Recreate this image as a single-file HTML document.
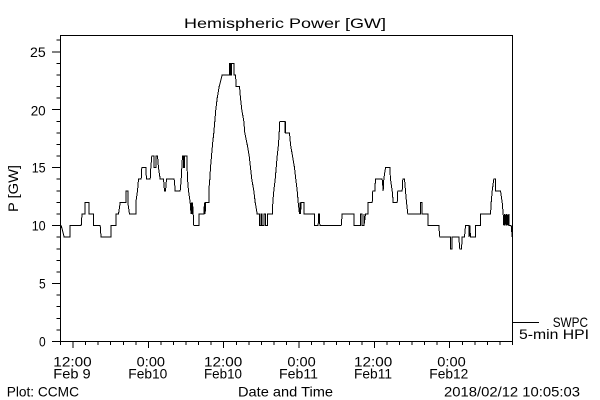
<!DOCTYPE html>
<html>
<head>
<meta charset="utf-8">
<style>
html,body{margin:0;padding:0;background:#fff;}
svg{display:block;}
text{font-family:"Liberation Sans",sans-serif;font-size:14px;fill:#000;}
</style>
</head>
<body>
<svg width="600" height="400" viewBox="0 0 600 400" xmlns="http://www.w3.org/2000/svg">
<rect x="0" y="0" width="600" height="400" fill="#fff"/>

<!-- Title -->
<text x="184" y="28" textLength="202" lengthAdjust="spacingAndGlyphs">Hemispheric Power [GW]</text>

<!-- Plot box -->
<g stroke="#000" stroke-width="1" fill="none" shape-rendering="crispEdges">
<path d="M60.5 35.5 H512.5 V341.5 H60.5 Z"/>
<!-- Y ticks major -->
<path d="M52 341.5H60.5 M52 283.55H60.5 M52 225.6H60.5 M52 167.65H60.5 M52 109.7H60.5 M52 51.75H60.5"/>
<!-- Y ticks minor -->
<path d="M56.5 329.91H60.5 M56.5 318.32H60.5 M56.5 306.73H60.5 M56.5 295.14H60.5 M56.5 271.96H60.5 M56.5 260.37H60.5 M56.5 248.78H60.5 M56.5 237.19H60.5 M56.5 214.01H60.5 M56.5 202.42H60.5 M56.5 190.83H60.5 M56.5 179.24H60.5 M56.5 156.06H60.5 M56.5 144.47H60.5 M56.5 132.88H60.5 M56.5 121.29H60.5 M56.5 98.11H60.5 M56.5 86.52H60.5 M56.5 74.93H60.5 M56.5 63.34H60.5 M56.5 40.16H60.5"/>
<!-- X ticks major -->
<path d="M73.06 341.5V348 M148.39 341.5V348 M223.72 341.5V348 M299.06 341.5V348 M374.39 341.5V348 M449.72 341.5V348"/>
<!-- X ticks minor -->
<path d="M60.5 341.5V345 M85.61 341.5V345 M98.17 341.5V345 M110.72 341.5V345 M123.28 341.5V345 M135.83 341.5V345 M160.94 341.5V345 M173.5 341.5V345 M186.06 341.5V345 M198.61 341.5V345 M211.17 341.5V345 M236.28 341.5V345 M248.83 341.5V345 M261.39 341.5V345 M273.94 341.5V345 M286.5 341.5V345 M311.61 341.5V345 M324.17 341.5V345 M336.72 341.5V345 M349.28 341.5V345 M361.83 341.5V345 M386.94 341.5V345 M399.5 341.5V345 M412.06 341.5V345 M424.61 341.5V345 M437.17 341.5V345 M462.28 341.5V345 M474.83 341.5V345 M487.39 341.5V345 M499.94 341.5V345 M512.5 341.5V345"/>
<!-- Legend line -->
<path d="M512.5 322.5H539"/>
</g>

<!-- Data -->
<polyline fill="none" stroke="#000" stroke-width="1" vector-effect="non-scaling-stroke" shape-rendering="crispEdges"
transform="matrix(1 0 0 -11.59 0.5 341.5)"
points="60.7,10 63.7,9 69.7,9 69.7,10 80.7,10 81.5,11 84.7,11 84.7,12 88.7,12 88.7,11 93,11 93,10 99.7,10 100.5,9 110.7,9 110.7,10 115.3,10 115.3,11 118,11 119.7,12 125.7,12 125.7,13 127.3,13 127.3,12 129,11 135.3,11 135.3,12 137,13 138,14 140.7,14 141.3,15 145.3,15 146,14 149.7,14 150.3,15 151.3,16 153.7,16 153.7,15 155.3,15 155.3,16 157,16 158,15 159.7,14 163,14 164,13 165,13 166,14 173.7,14 174.7,13 179.7,13 180.7,14 181.3,15 182,16 183,16 183,15 184,15 184,16 186.3,16 187,14 188,13 189.7,12 190.5,11 191,12 191.5,11 192,12 192.7,11 193.3,10 198.3,10 198.3,11 203.3,11 204,12 204.7,11 205,12 208.3,12 208.3,13 209.3,14 210,15 211,16 212,17 213.3,18 214.3,19 215.3,20 216.7,21 218.7,22 221.7,23 229,23 229,24 230,24 230,23 231,23 231,24 233.3,24 233.3,23 235,23 235.7,22 239,22 240,21 241.3,20 243.3,19 244.3,18 246.7,17 248.7,16 250,15 251.3,14 253.3,13 254.7,12 256.7,11 259,11 259,10 260.7,10 260.7,11 261.7,11 261.7,10 263.3,10 263.3,11 265,11 265,10 267,10 267,11 272,11 272.3,12 273.3,13 274.7,14 275.7,15 276.7,16 278,17 278.7,18 279.3,19 284.3,19 284.3,18 285,19 285,18 289,18 290,17 292,16 294,15 295.3,14 296.7,13 297.7,12 299,11 299.5,12 300,11 300.7,12 303.3,12 303.3,11 314,11 314,10 317.7,10 318,11 319,11 319.3,10 340.7,10 341.7,11 353.3,11 353.3,10 360,10 360,11 361.7,11 361.7,10 363.3,10 363.3,11 363.5,10 365,11 367.7,11 367.7,12 371.7,12 372.3,13 374.3,13 375,14 381.7,14 382.7,13 383.3,14 385,15 389.3,15 390,14 391.7,13 392.7,12 396.7,12 397.3,13 401.7,13 402.3,14 404,14 405,13 406,12 407.3,11 420,11 420,12 421.7,12 421.7,11 427.3,11 427.3,10 438.3,10 439.3,9 450,9 450,8 451.7,8 451.7,9 458.3,9 459.3,8 461,8 461.7,9 464,9 465,10 468.3,10 468.7,9 469.3,10 470,9 475,9 475,10 480,10 480,11 490,11 490.7,12 491.7,13 493.3,14 495,14 495,13 500,13 501.7,12 502.7,11 503.3,10 504,11 504.7,10 505.3,11 506,10 506.7,11 507.3,10 508.3,11 508.3,10 510.7,10 511.7,9"/>

<!-- Y tick labels -->
<text x="30" y="56.8" textLength="15.7" lengthAdjust="spacingAndGlyphs">25</text>
<text x="30.7" y="115.3" textLength="15" lengthAdjust="spacingAndGlyphs">20</text>
<text x="31.7" y="172.7" textLength="14" lengthAdjust="spacingAndGlyphs">15</text>
<text x="31.7" y="230.6" textLength="14" lengthAdjust="spacingAndGlyphs">10</text>
<text x="39" y="288.6" textLength="6.7" lengthAdjust="spacingAndGlyphs">5</text>
<text x="39" y="346.6" textLength="6.7" lengthAdjust="spacingAndGlyphs">0</text>

<!-- Y axis label -->
<text transform="translate(18,188.5) rotate(-90)" text-anchor="middle" textLength="47" lengthAdjust="spacingAndGlyphs">P [GW]</text>

<!-- X tick labels -->
<text x="53.3" y="366.7" textLength="38.4" lengthAdjust="spacingAndGlyphs">12:00</text>
<text x="53.3" y="378.3" textLength="37.4" lengthAdjust="spacingAndGlyphs">Feb 9</text>
<text x="136.7" y="366.7" textLength="28.3" lengthAdjust="spacingAndGlyphs">0:00</text>
<text x="128.3" y="378.3" textLength="39" lengthAdjust="spacingAndGlyphs">Feb10</text>
<text x="204" y="366.7" textLength="38.3" lengthAdjust="spacingAndGlyphs">12:00</text>
<text x="204" y="378.3" textLength="38" lengthAdjust="spacingAndGlyphs">Feb10</text>
<text x="287.4" y="366.7" textLength="28.3" lengthAdjust="spacingAndGlyphs">0:00</text>
<text x="279" y="378.3" textLength="39" lengthAdjust="spacingAndGlyphs">Feb11</text>
<text x="354" y="366.7" textLength="38.3" lengthAdjust="spacingAndGlyphs">12:00</text>
<text x="354" y="378.3" textLength="38" lengthAdjust="spacingAndGlyphs">Feb11</text>
<text x="437.3" y="366.7" textLength="28.4" lengthAdjust="spacingAndGlyphs">0:00</text>
<text x="429.3" y="378.3" textLength="39" lengthAdjust="spacingAndGlyphs">Feb12</text>

<!-- Bottom row -->
<text x="6.7" y="396.7" textLength="72.3" lengthAdjust="spacingAndGlyphs">Plot: CCMC</text>
<text x="238" y="396.7" textLength="95" lengthAdjust="spacingAndGlyphs">Date and Time</text>
<text x="444" y="396.7" textLength="136" lengthAdjust="spacingAndGlyphs">2018/02/12 10:05:03</text>

<!-- Legend -->
<text x="552.7" y="327" textLength="35.3" lengthAdjust="spacingAndGlyphs">SWPC</text>
<text x="519" y="339" textLength="70" lengthAdjust="spacingAndGlyphs">5-min HPI</text>
</svg>
</body>
</html>
